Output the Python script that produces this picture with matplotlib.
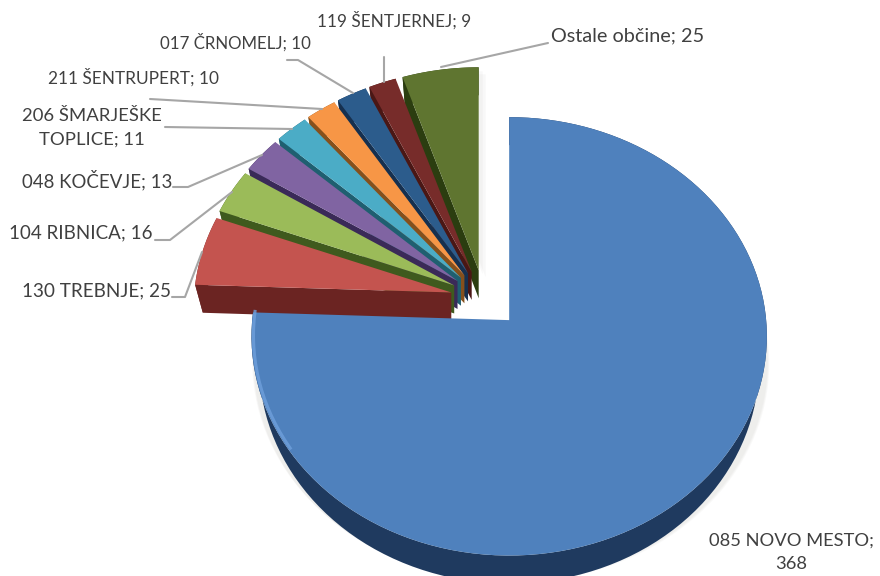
import numpy as np
import matplotlib
matplotlib.use('Agg')
import matplotlib.pyplot as plt

plt.rcParams['font.family'] = ['Lato', 'DejaVu Sans']

# podatki
names = ['085 NOVO MESTO', '130 TREBNJE', '104 RIBNICA', '048 KOČEVJE', '206 ŠMARJEŠKE TOPLICE',
         '211 ŠENTRUPERT', '017 ČRNOMELJ', '119 ŠENTJERNEJ', 'Ostale občine']
values = [368, 25, 16, 13, 11, 10, 10, 9, 25]
explode = [0.14, 0.13, 0.13, 0.13, 0.13, 0.13, 0.13, 0.13, 0.13]
topColors = ['#4F81BD', '#C4544F', '#9BBB59', '#8064A2', '#4BACC6', '#F79646', '#2C5C8C', '#772C2A', '#5F7530']
sideColors = ['#1F3A5F', '#6B2422', '#3F5A1E', '#3A2A58', '#1F5F70', '#85501C', '#16304F', '#4A1715', '#2B3D10']

labels = [('119 ŠENTJERNEJ; 9', 394, 20, 12.3), ('017 ČRNOMELJ; 10', 235, 42, 12.2),
          ('Ostale občine; 25', 628, 36, 14.3), ('211 ŠENTRUPERT; 10', 133, 77, 12.4),
          ('206 ŠMARJEŠKE\nTOPLICE; 11', 92, 128, 13.3), ('048 KOČEVJE; 13', 97, 180, 13.4),
          ('104 RIBNICA; 16', 81, 233, 13.5), ('130 TREBNJE; 25', 96, 291, 13.6),
          ('085 NOVO MESTO;\n368', 791, 552, 13.2)]
leaders = [([384, 384], [82, 57]), ([353, 298, 287], [93, 60, 60]), ([441, 548], [67, 43]),
           ([322, 150], [109, 99]), ([292, 165], [129, 127]), ([262, 188, 173], [155, 187, 187]),
           ([232, 170, 155], [192, 240, 240]), ([202, 185, 172], [252, 297, 297])]

hubX, hubY = 484, 298
rx, ry, persp = 257, 218, 0.074
depth = 28
wallShrink = 0.97


def project(u, v):
    return rx*u/(1. + persp*v), -ry*v/(1. + persp*v)


fig = plt.figure(figsize=(8.8, 5.76), dpi=100)
ax = fig.add_axes([0, 0, 1, 1])
ax.set_xlim(0, 880)
ax.set_ylim(576, 0)
ax.axis('off')

# koti rezin, v smeri urinega kazalca od vrha
edges = np.cumsum([0] + values)/float(sum(values))*2*np.pi


def slicePoints(i):
    mid = (edges[i] + edges[i + 1])/2.
    ox, oy = project(explode[i]*np.sin(mid), explode[i]*np.cos(mid))
    ax0, ay0 = hubX + ox, hubY + oy
    t = np.linspace(edges[i], edges[i + 1], 120)
    px, py = project(np.sin(t), np.cos(t))
    return ax0, ay0, ax0 + px, ay0 + py


# rahla senca
x0, y0, xa, ya = slicePoints(0)
for off in [6, 4, 2]:
    ax.fill(np.r_[x0, xa] + off*0.4, np.r_[y0, ya] + depth*0.9 + off*0.3, color='#B0ADA6', alpha=0.07, lw=0, zorder=1)
x8, y8, xb, yb = slicePoints(8)
for off in [7, 4]:
    ax.fill(np.r_[x8, xb] + off, np.r_[y8, yb] + off, color='#B0ADA6', alpha=0.08, lw=0, zorder=1)

# od zadnje rezine proti prvi, glavna rezina je na vrhu
zo = 2
for i in list(range(len(values) - 1, 0, -1)) + [0]:
    x0, y0, xs, ys = slicePoints(i)
    # spodnji rob stene je malo ozji
    xLow = x0 + (xs - x0)*wallShrink
    ax.fill(np.r_[xs, xLow[::-1]], np.r_[ys, ys[::-1] + depth], color=sideColors[i], lw=0, zorder=zo)
    # rezana stena
    ax.fill([x0, xs[0], xLow[0], x0], [y0, ys[0], ys[0] + depth, y0 + depth], color=sideColors[i], lw=0, zorder=zo)
    ax.fill(np.r_[x0, xs], np.r_[y0, ys], color=topColors[i], lw=0, zorder=zo + 1)
    zo += 2

# svetel rob glavne rezine na levi
x0, y0, xs, ys = slicePoints(0)
keep = (np.linspace(edges[0], edges[1], 120) > 4.1)
ax.plot(xs[keep] + 2, ys[keep] - 1, color='#6FA0DC', lw=2.2, alpha=0.8, zorder=zo)

for lx, ly in leaders:
    ax.plot(lx, ly, color='#A6A6A6', lw=1.5, zorder=zo + 1, solid_capstyle='round')

for txt, x, y, size in labels:
    ax.text(x, y, txt, ha='center', va='center', fontsize=size, color='#404040', linespacing=1.55, zorder=zo + 2)

fig.savefig('out.png', dpi=100, facecolor='white')
